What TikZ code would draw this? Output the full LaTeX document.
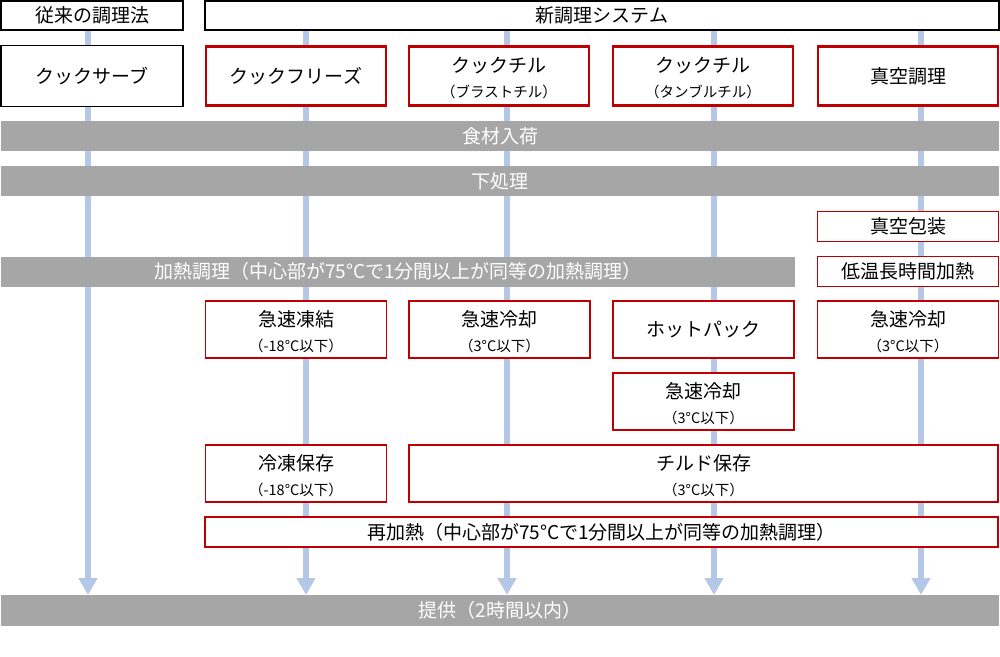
\documentclass[tikz,border=0pt]{standalone}
\usepackage{fontspec}
\setmainfont{Noto Sans CJK JP}
\usetikzlibrary{arrows.meta,backgrounds}
\definecolor{flowblue}{RGB}{180,199,231}
\definecolor{bargray}{RGB}{166,166,166}
\definecolor{boxred}{RGB}{192,0,0}
\newcommand{\sublabel}[1]{{\fontsize{14.5}{16}\selectfont #1}}
\newcommand{\topstrut}{\rule{0pt}{20pt}}
\begin{document}
\begin{tikzpicture}[x=1pt,y=-1pt,
  every node/.style={inner sep=0pt, outer sep=0pt, align=center, font=\fontsize{19}{25}\selectfont},
  blackbox/.style={draw=black, line width=1.2pt, fill=white},
  thickred/.style={draw=boxred, line width=2.8pt, fill=white},
  thinred/.style={draw=boxred, line width=1.2pt, fill=white},
  graybar/.style={fill=bargray, text=white},
  flowline/.style={line width=6pt, draw=flowblue, -{Triangle[width=18pt,length=17pt]}}
]
\useasboundingbox (0,0) rectangle (1000,656);
% headers
\node[blackbox, minimum width=182pt, minimum height=29pt] (trad) at (92,15.5) {従来の調理法};
\node[blackbox, minimum width=794pt, minimum height=29pt] (newsys) at (602,15.5) {新調理システム};
% methods
\node[blackbox, minimum width=182pt, minimum height=61pt] (cs) at (92,76) {クックサーブ};
\node[thickred, minimum width=180pt, minimum height=59pt] (cf) at (296,76) {クックフリーズ};
\node[thickred, minimum width=180pt, minimum height=59pt] (cc1) at (499,76) {\topstrut クックチル\\\sublabel{（ブラストチル）}};
\node[thickred, minimum width=180pt, minimum height=59pt] (cc2) at (703,76) {\topstrut クックチル\\\sublabel{（タンブルチル）}};
\node[thickred, minimum width=180pt, minimum height=59pt] (sv) at (908,76) {真空調理};
% bars
\node[graybar, minimum width=998pt, minimum height=30pt] (intake) at (500,136) {食材入荷};
\node[graybar, minimum width=998pt, minimum height=30pt] (prep) at (500,181) {下処理};
\node[graybar, minimum width=794pt, minimum height=30pt] (cook) at (398,271.5) {加熱調理（中心部が75°Cで1分間以上が同等の加熱調理）};
\node[graybar, minimum width=998pt, minimum height=31pt] (serve) at (500,610.5) {提供（2時間以内）};
% vacuum column
\node[thinred, minimum width=181pt, minimum height=30pt] (vacpack) at (908,226.5) {真空包装};
\node[thinred, minimum width=181pt, minimum height=30pt] (lowtemp) at (908,271.5) {低温長時間加熱};
% process boxes
\node[thinred, minimum width=181pt, minimum height=57pt] (freeze) at (296,329.5) {\topstrut 急速凍結\\\sublabel{（-18°C以下）}};
\node[thinred, minimum width=181pt, minimum height=57pt] (chillA) at (499.5,329.5) {\topstrut 急速冷却\\\sublabel{（3°C以下）}};
\node[thinred, minimum width=181pt, minimum height=57pt] (hot) at (703.5,329.5) {ホットパック};
\node[thinred, minimum width=181pt, minimum height=57pt] (chillC) at (908,329.5) {\topstrut 急速冷却\\\sublabel{（3°C以下）}};
\node[thinred, minimum width=181pt, minimum height=57pt] (chillB) at (703.5,401.5) {\topstrut 急速冷却\\\sublabel{（3°C以下）}};
\node[thinred, minimum width=181pt, minimum height=57pt] (frozen) at (296,473.5) {\topstrut 冷凍保存\\\sublabel{（-18°C以下）}};
\node[thinred, minimum width=589pt, minimum height=57pt] (chilled) at (703.5,473.5) {\topstrut チルド保存\\\sublabel{（3°C以下）}};
\node[thinred, minimum width=793pt, minimum height=30pt] (reheat) at (601.5,532) {再加熱（中心部が75°Cで1分間以上が同等の加熱調理）};
% flow lines
\begin{scope}[on background layer]
\draw[flowline] (88,0 |- trad.south) -- (88,0 |- serve.north);
\draw[flowline] (306,0 |- newsys.south) -- (306,0 |- serve.north);
\draw[flowline] (507,0 |- newsys.south) -- (507,0 |- serve.north);
\draw[flowline] (714,0 |- newsys.south) -- (714,0 |- serve.north);
\draw[flowline] (921,0 |- newsys.south) -- (921,0 |- serve.north);
\end{scope}
\end{tikzpicture}
\end{document}
